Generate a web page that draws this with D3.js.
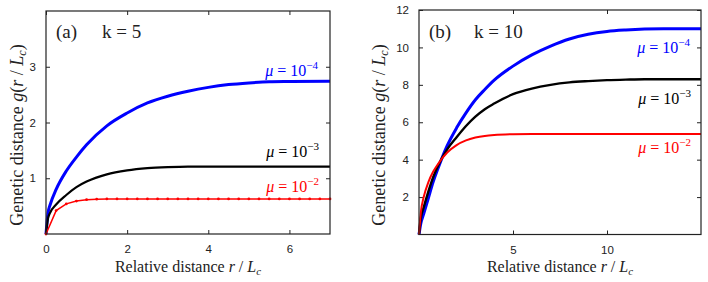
<!DOCTYPE html>
<html lang="en">
<head>
    <meta charset="UTF-8">
    <title>Genetic distance vs relative distance</title>
    <script src="https://d3js.org/d3.v7.min.js"></script>
    <style>
        body { margin: 0; background: #fff; }
        .tick text { font-family: "Liberation Sans", Arial, sans-serif; font-size: 11.5px; fill: #222; }
        .tick line { stroke: #222; }
        .serif { font-family: "Liberation Serif", "Times New Roman", serif; fill: #222; }
        .line { fill: none; }
    </style>
</head>
<body>
    <svg width="708" height="282"></svg>

    <script>
        // panel (a), k = 5
        const rA = [0, 0.05, 0.1, 0.25, 0.5, 0.75, 1, 1.5, 2, 2.5, 3, 3.5, 4, 4.5, 5, 5.5, 6, 7];
        const gA_mu4 = [0, 0.38, 0.52, 0.80, 1.13, 1.38, 1.60, 1.94, 2.17, 2.35, 2.47, 2.56, 2.63, 2.68, 2.71, 2.73, 2.735, 2.74];
        const gA_mu3 = [0, 0.28, 0.38, 0.53, 0.70, 0.84, 0.94, 1.07, 1.14, 1.18, 1.20, 1.21, 1.21, 1.21, 1.21, 1.21, 1.21, 1.21];
        const rA_red = [0, 0.25, 0.5, 0.75, 1, 1.25, 1.5, 1.75, 2, 2.25, 2.5, 2.75, 3, 3.25, 3.5, 3.75, 4, 4.25, 4.5, 4.75, 5, 5.25, 5.5, 5.75, 6, 6.25, 6.5, 6.75, 7];
        const gA_mu2 = [0, 0.42, 0.54, 0.59, 0.615, 0.625, 0.63, 0.63, 0.63, 0.63, 0.63, 0.63, 0.63, 0.63, 0.63, 0.63, 0.63, 0.63, 0.63, 0.63, 0.63, 0.63, 0.63, 0.63, 0.63, 0.63, 0.63, 0.63, 0.63];

        // panel (b), k = 10
        const rB = [0, 0.1, 0.25, 0.5, 0.75, 1, 1.5, 2, 2.5, 3, 3.5, 4, 5, 6, 7, 8, 9, 10, 11, 12, 13, 14, 15];
        const gB_mu4 = [0, 0.6, 1.1, 1.95, 2.8, 3.5, 4.75, 5.7, 6.5, 7.2, 7.75, 8.25, 9.0, 9.6, 10.07, 10.45, 10.7, 10.85, 10.93, 10.98, 11.0, 11.0, 11.0];
        const gB_mu3 = [0, 0.9, 1.45, 2.3, 3.05, 3.65, 4.55, 5.2, 5.8, 6.3, 6.7, 7.0, 7.5, 7.8, 8.0, 8.13, 8.2, 8.25, 8.28, 8.3, 8.3, 8.3, 8.3];
        const gB_mu2 = [0, 1.2, 2.0, 2.8, 3.35, 3.75, 4.38, 4.78, 5.03, 5.18, 5.27, 5.32, 5.36, 5.37, 5.37, 5.37, 5.37, 5.37, 5.37, 5.37, 5.37, 5.37, 5.37];

        const xTicksA = [0, 2, 4, 6];
        const yTicksA = [1, 2, 3];
        const xTicksB = [5, 10];
        const yTicksB = [2, 4, 6, 8, 10, 12];

        const svg = d3.select("svg");
        const fmt = d3.format("d");

        function drawPanel(p) {
            const x = d3.scaleLinear().domain(p.xDomain).range([p.left, p.right]);
            const y = d3.scaleLinear().domain(p.yDomain).range([p.bottom, p.top]);
            const g = svg.append("g");

            // axes with inward ticks on all four sides
            g.append("g").attr("transform", `translate(0,${p.bottom})`)
                .call(d3.axisBottom(x).tickValues(p.xTicks).tickFormat(fmt).tickSizeInner(-4).tickSizeOuter(0).tickPadding(11))
                .call(a => a.select(".domain").remove());
            g.append("g").attr("transform", `translate(0,${p.top})`)
                .call(d3.axisTop(x).tickValues(p.xTicks).tickSizeInner(-4).tickSizeOuter(0).tickFormat(""))
                .call(a => a.select(".domain").remove());
            g.append("g").attr("transform", `translate(${p.left},0)`)
                .call(d3.axisLeft(y).tickValues(p.yTicks).tickFormat(fmt).tickSizeInner(-4).tickSizeOuter(0).tickPadding(10))
                .call(a => a.select(".domain").remove());
            g.append("g").attr("transform", `translate(${p.right},0)`)
                .call(d3.axisRight(y).tickValues(p.yTicks).tickSizeInner(-4).tickSizeOuter(0).tickFormat(""))
                .call(a => a.select(".domain").remove());

            const line = d3.line()
                .x(d => x(d[0]))
                .y(d => y(d[1]));

            p.series.forEach(s => {
                const pts = s.r.map((r, i) => [r, s.g[i]]);
                g.append("path")
                    .datum(pts)
                    .attr("class", "line")
                    .attr("d", line.curve(s.linear ? d3.curveLinear : d3.curveMonotoneX))
                    .attr("stroke", s.color)
                    .attr("stroke-width", s.width);
                if (s.markers) {
                    g.selectAll(null).data(pts).enter().append("circle")
                        .attr("cx", d => x(d[0]))
                        .attr("cy", d => y(d[1]))
                        .attr("r", 1.4)
                        .attr("fill", s.color);
                }
            });

            g.append("rect")
                .attr("x", p.left).attr("y", p.top)
                .attr("width", p.right - p.left).attr("height", p.bottom - p.top)
                .attr("fill", "none").attr("stroke", "#222").attr("stroke-width", 1.2);

            // panel tag
            const tag = g.append("text").attr("class", "serif").attr("font-size", 19)
                .attr("x", p.left + 10).attr("y", 38);
            tag.append("tspan").text(p.tag);
            tag.append("tspan").attr("x", p.left + p.kOffset).text(p.kText);

            // legend labels
            p.series.forEach(s => {
                const t = g.append("text").attr("class", "serif").attr("font-size", 16)
                    .attr("x", s.lx).attr("y", s.ly).attr("text-anchor", "end").style("fill", s.color);
                t.append("tspan").attr("font-style", "italic").text("μ");
                t.append("tspan").text(" = 10");
                t.append("tspan").attr("font-size", 11).attr("dy", -7).text(s.exp);
            });

            // x label
            const xl = g.append("text").attr("class", "serif").attr("font-size", 16)
                .attr("x", (p.left + p.right) / 2).attr("y", 272).attr("text-anchor", "middle");
            xl.append("tspan").text("Relative distance ");
            xl.append("tspan").attr("font-style", "italic").text("r");
            xl.append("tspan").text(" / ");
            xl.append("tspan").attr("font-style", "italic").text("L");
            xl.append("tspan").attr("font-style", "italic").attr("font-size", 11).attr("dy", 3).text("c");

            // y label
            const yl = g.append("text").attr("class", "serif").attr("font-size", 18)
                .attr("transform", `translate(${p.yLabelX},135) rotate(-90)`)
                .attr("text-anchor", "middle");
            yl.append("tspan").text("Genetic distance ");
            yl.append("tspan").attr("font-style", "italic").text("g");
            yl.append("tspan").text("(");
            yl.append("tspan").attr("font-style", "italic").text("r");
            yl.append("tspan").text(" / ");
            yl.append("tspan").attr("font-style", "italic").text("L");
            yl.append("tspan").attr("font-style", "italic").attr("font-size", 12).attr("dy", 3).text("c");
            yl.append("tspan").attr("dy", -3).text(")");
        }

        drawPanel({
            left: 46, right: 330, top: 11, bottom: 234,
            xDomain: [0, 7], yDomain: [0, 4],
            xTicks: xTicksA, yTicks: yTicksA,
            tag: "(a)", kText: "k = 5", kOffset: 56, yLabelX: 23,
            series: [
                { r: rA, g: gA_mu4, color: "#0000ff", width: 3, exp: "−4", lx: 318, ly: 76 },
                { r: rA, g: gA_mu3, color: "#000000", width: 2.2, exp: "−3", lx: 319, ly: 157 },
                { r: rA_red, g: gA_mu2, color: "#ff0000", width: 1.5, exp: "−2", lx: 319, ly: 192, linear: true, markers: true }
            ]
        });

        drawPanel({
            left: 419, right: 701, top: 10, bottom: 234.5,
            xDomain: [0, 15], yDomain: [0, 12],
            xTicks: xTicksB, yTicks: yTicksB,
            tag: "(b)", kText: "k = 10", kOffset: 55, yLabelX: 385,
            series: [
                { r: rB, g: gB_mu4, color: "#0000ff", width: 3, exp: "−4", lx: 690, ly: 53 },
                { r: rB, g: gB_mu3, color: "#000000", width: 2.4, exp: "−3", lx: 691, ly: 104 },
                { r: rB, g: gB_mu2, color: "#ff0000", width: 2, exp: "−2", lx: 691, ly: 153 }
            ]
        });
    </script>
</body>
</html>
